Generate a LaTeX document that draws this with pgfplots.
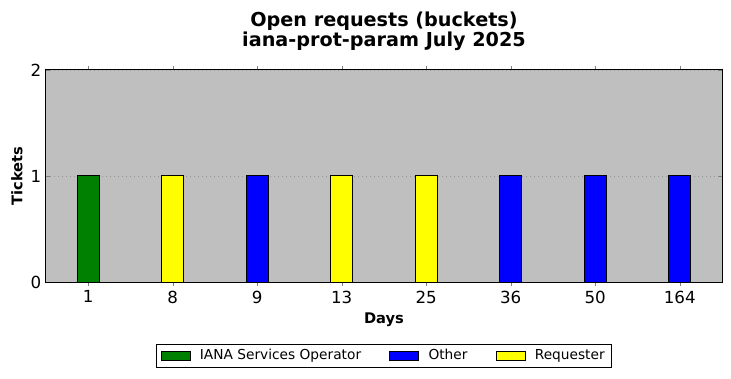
\documentclass[border=0pt]{standalone}
\usepackage{fontspec}
\setmainfont{DejaVu Sans}
\usepackage{pgfplots}
\pgfplotsset{compat=1.18}
\definecolor{bgray}{RGB}{191,191,191}
\definecolor{mgreen}{RGB}{0,128,0}
\definecolor{mblue}{RGB}{0,0,255}
\definecolor{myellow}{RGB}{255,255,0}
\definecolor{gridc}{RGB}{150,150,150}
\begin{document}
\begin{tikzpicture}
\useasboundingbox (-34.5pt,-72pt) rectangle (513.75pt,211.5pt);
\begin{axis}[
  at={(0,0)}, anchor=south west,
  scale only axis, width=507pt, height=159pt,
  xmin=-0.5, xmax=7.5, ymin=0, ymax=2,
  xtick={0,1,2,3,4,5,6,7},
  xticklabels={1,8,9,13,25,36,50,164},
  ytick={0,1,2},
  /pgf/number format/assume math mode=true,
  tick label style={font=\fontsize{12.5}{14}\selectfont},
  tick align=inside,
  major tick length=3pt,
  axis line style={line width=0.75pt},
  axis background/.style={fill=bgray},
  ymajorgrids,
  major grid style={gridc, line width=0.6pt, dash pattern=on 0.75pt off 2.25pt},
  xlabel={Days},
  ylabel={Tickets},
  xlabel style={font=\bfseries\fontsize{11}{13}\selectfont, at={(axis description cs:0.5,-0.198)}, anchor=base},
  ylabel style={font=\bfseries\fontsize{11}{13}\selectfont, at={(axis description cs:-0.043,0.5)}, anchor=center},
  ybar, bar shift=0pt, bar width=0.26,
  legend columns=3,
  legend style={at={(axis description cs:0.5,-0.347)}, anchor=center,
    draw=black, line width=0.75pt, fill=white,
    font=\fontsize{10.3}{12}\selectfont,
    /tikz/every odd column/.append style={column sep=5pt},
    /tikz/every even column/.append style={column sep=19pt}},
  legend image code/.code={\draw[#1, draw=black, line width=0.75pt] (0pt,-3.4pt) rectangle (21.75pt,3.4pt);},
]
\addplot[fill=mgreen, draw=black, line width=0.75pt] coordinates {(0,1)};
\addlegendentry{IANA Services Operator}
\addplot[fill=mblue, draw=black, line width=0.75pt] coordinates {(2,1) (5,1) (6,1) (7,1)};
\addlegendentry{Other}
\addplot[fill=myellow, draw=black, line width=0.75pt] coordinates {(1,1) (3,1) (4,1)};
\addlegendentry{Requester}
\end{axis}
\node[anchor=base, font=\bfseries\fontsize{14.4}{15}\selectfont] at (253.5pt,191.25pt) {Open requests (buckets)};
\node[anchor=base, font=\bfseries\fontsize{14.4}{15}\selectfont] at (253.5pt,176.25pt) {iana-prot-param July 2025};
\end{tikzpicture}
\end{document}
